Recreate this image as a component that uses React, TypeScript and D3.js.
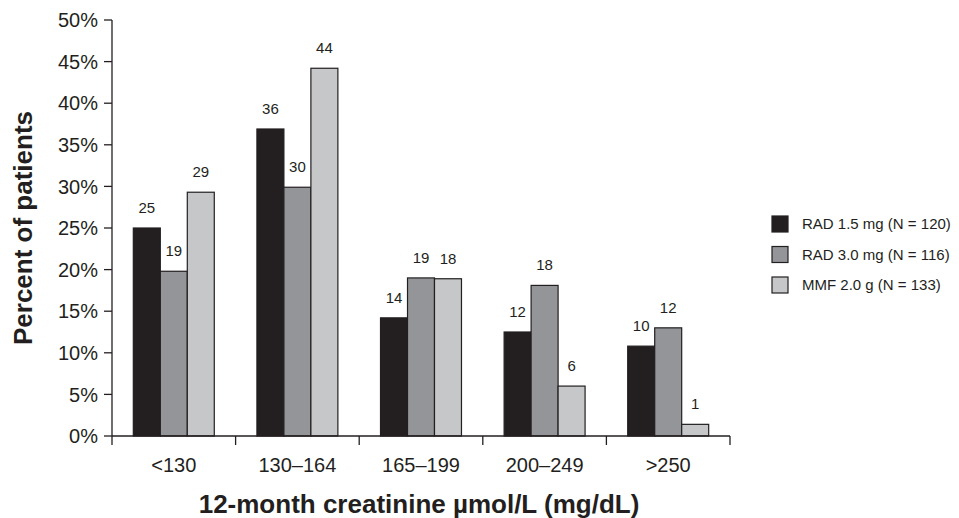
import React from 'react';
import * as d3 from 'd3';

// creatinine bands on the x axis
const categories = ['<130', '130–164', '165–199', '200–249', '>250'];

const seriesNames = [
    'RAD 1.5 mg (N = 120)',
    'RAD 3.0 mg (N = 116)',
    'MMF 2.0 g (N = 133)',
];

// bar heights (percent) as drawn
const rad15Values = [25.0, 36.9, 14.2, 12.5, 10.8];
const rad30Values = [19.8, 29.9, 19.0, 18.1, 13.0];
const mmfValues = [29.3, 44.2, 18.9, 6.0, 1.4];

// numbers printed above the bars
const rad15Labels = ['25', '36', '14', '12', '10'];
const rad30Labels = ['19', '30', '19', '18', '12'];
const mmfLabels = ['29', '44', '18', '6', '1'];

const yTicks = [0, 5, 10, 15, 20, 25, 30, 35, 40, 45, 50];

const colors = ['#231f20', '#939598', '#c6c7c8'];
const ink = '#231f20';
const font = '"Liberation Sans", Arial, Helvetica, sans-serif';

function App() {
    const left = 112, right = 730, top = 20, bottom = 436;

    const series = [
        { name: seriesNames[0], values: rad15Values, labels: rad15Labels, color: colors[0] },
        { name: seriesNames[1], values: rad30Values, labels: rad30Labels, color: colors[1] },
        { name: seriesNames[2], values: mmfValues, labels: mmfLabels, color: colors[2] },
    ];

    const x0 = d3.scaleBand().domain(categories).range([left, right]).padding(0);
    const x1 = d3.scaleBand()
        .domain(seriesNames)
        .range([0, x0.bandwidth()])
        .paddingInner(0)
        .paddingOuter(0.79);
    const y = d3.scaleLinear().domain([0, 50]).range([bottom, top]);

    const boundaries = categories.map(c => x0(c)).concat([right]);

    return (
        <svg
            width={959}
            height={518}
            style={{ position: 'absolute', left: 0, top: 0, background: '#fff' }}
            fontFamily={font}
        >
            {/* bars */}
            {categories.map((cat, i) => (
                <g key={cat} transform={`translate(${x0(cat)},0)`}>
                    {series.map(s => (
                        <g key={s.name}>
                            <rect
                                x={x1(s.name)}
                                y={y(s.values[i])}
                                width={x1.bandwidth()}
                                height={bottom - y(s.values[i])}
                                fill={s.color}
                                stroke={ink}
                                strokeWidth={1.2}
                            />
                            <text
                                x={x1(s.name) + x1.bandwidth() / 2}
                                y={y(s.values[i]) - 15}
                                textAnchor="middle"
                                fontSize={15}
                                fill={ink}
                            >
                                {s.labels[i]}
                            </text>
                        </g>
                    ))}
                </g>
            ))}

            {/* y axis */}
            <line x1={left} x2={left} y1={y(50)} y2={bottom} stroke={ink} strokeWidth={1.3} />
            {yTicks.map(t => (
                <g key={t} transform={`translate(0,${y(t)})`}>
                    <line x1={left - 8} x2={left} stroke={ink} strokeWidth={1.3} />
                    <text x={left - 14} dy="0.36em" textAnchor="end" fontSize={20} fill={ink}>
                        {t}%
                    </text>
                </g>
            ))}

            {/* x axis */}
            <line x1={left} x2={right} y1={bottom} y2={bottom} stroke={ink} strokeWidth={1.3} />
            {boundaries.map((b, i) => (
                <line key={i} x1={b} x2={b} y1={bottom} y2={bottom + 9} stroke={ink} strokeWidth={1.3} />
            ))}
            {categories.map(cat => (
                <text
                    key={cat}
                    x={x0(cat) + x0.bandwidth() / 2}
                    y={472}
                    textAnchor="middle"
                    fontSize={20}
                    fill={ink}
                >
                    {cat}
                </text>
            ))}

            {/* axis titles */}
            <text
                x={419}
                y={513}
                textAnchor="middle"
                fontSize={26}
                fontWeight="bold"
                fill={ink}
            >
                12-month creatinine µmol/L (mg/dL)
            </text>
            <text
                transform="translate(32,228) rotate(-90)"
                textAnchor="middle"
                fontSize={26}
                fontWeight="bold"
                fill={ink}
            >
                Percent of patients
            </text>

            {/* legend */}
            {series.map((s, i) => (
                <g key={s.name} transform={`translate(772,${216 + i * 30.5})`}>
                    <rect width={16} height={16} fill={s.color} stroke={ink} strokeWidth={1.2} />
                    <text x={30} y={8} dy="0.36em" fontSize={15} fill={ink}>
                        {s.name}
                    </text>
                </g>
            ))}
        </svg>
    );
}

export default App;
